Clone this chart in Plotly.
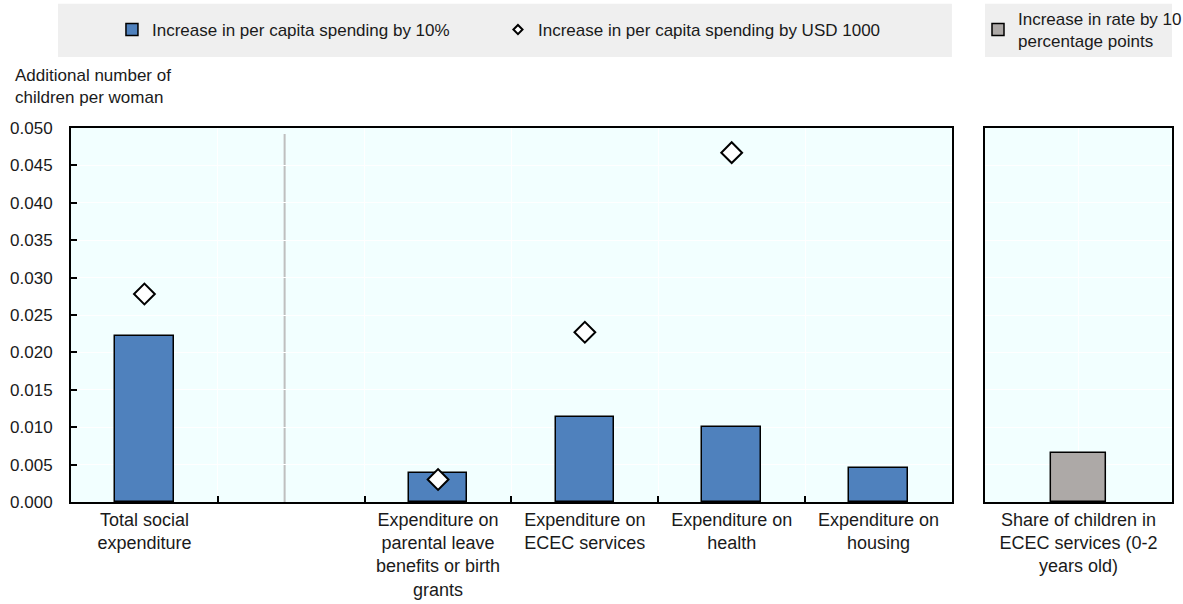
import plotly.graph_objects as go

# Effect on completed fertility of higher family-policy spending
categories = [
    "Total social<br>expenditure",
    " ",
    "Expenditure on<br>parental leave<br>benefits or birth<br>grants",
    "Expenditure on<br>ECEC services",
    "Expenditure on<br>health",
    "Expenditure on<br>housing",
]
spend_10pct = [0.0222, None, 0.0039, 0.0114, 0.0100, 0.0045]
spend_usd1000 = [0.0278, None, 0.0030, 0.0227, 0.0467, None]

enrol_category = ["Share of children in<br>ECEC services (0-2<br>years old)"]
enrol_10pp = [0.0066]

y_ticks = [round(0.005 * i, 3) for i in range(11)]

FONT = "Liberation Sans, Arial, sans-serif"
FS = 17
BLUE = "#4F81BD"
GREY_BAR = "#ADA9A7"
PANEL_BG = "#F2FFFF"
LEGEND_BG = "#EFEFEF"

fig = go.Figure()

fig.add_trace(go.Bar(
    x=categories, y=spend_10pct, name="Increase in per capita spending by 10%",
    marker=dict(color=BLUE, line=dict(color="black", width=1.5)),
    width=0.4, xaxis="x", yaxis="y", legend="legend",
))
fig.add_trace(go.Scatter(
    x=categories, y=spend_usd1000, mode="markers",
    name="Increase in per capita spending by USD 1000",
    marker=dict(symbol="diamond", size=16, color="white",
                line=dict(color="black", width=2)),
    xaxis="x", yaxis="y", showlegend=False,
))
# smaller legend marker for the diamond series
fig.add_trace(go.Scatter(
    x=[categories[0]], y=[None], mode="markers",
    name="Increase in per capita spending by USD 1000",
    marker=dict(symbol="diamond", size=7, color="white",
                line=dict(color="black", width=2)),
    xaxis="x", yaxis="y", legend="legend",
))
fig.add_trace(go.Bar(
    x=enrol_category, y=enrol_10pp,
    name="Increase in rate by 10<br>percentage points",
    marker=dict(color=GREY_BAR, line=dict(color="black", width=1.5)),
    width=0.29, xaxis="x2", yaxis="y2", legend="legend2",
))

axis_common = dict(
    showline=True, linecolor="black", linewidth=2, mirror=True,
    showgrid=True, gridcolor="white", gridwidth=1, zeroline=False,
    automargin=False,
)

fig.update_layout(
    width=1183, height=604,
    margin=dict(l=71, r=11, t=128, b=102, autoexpand=False),
    paper_bgcolor="white", plot_bgcolor=PANEL_BG,
    font=dict(family=FONT, size=FS, color="#1a1a1a"),
    bargap=0,
    xaxis=dict(domain=[0, 0.8001], type="category",
               categoryorder="array", categoryarray=categories,
               tickson="boundaries", ticks="inside", ticklen=6,
               tickcolor="black", tickwidth=2, tickangle=0,
               tickfont=dict(size=18), **axis_common),
    yaxis=dict(range=[0, 0.05], tickvals=y_ticks, tickformat=".3f",
               ticks="inside", ticklen=6, tickcolor="black", tickwidth=2,
               ticklabelstandoff=13, **axis_common),
    xaxis2=dict(domain=[0.8302, 1.0], type="category", anchor="y2",
                ticks="", tickangle=0, tickfont=dict(size=18),
                **axis_common),
    yaxis2=dict(range=[0, 0.05], tickvals=y_ticks, anchor="x2",
                showticklabels=False, ticks="", **axis_common),
    legend=dict(orientation="h", x=0.0372, xanchor="left", y=1.262,
                yanchor="middle", bgcolor="rgba(0,0,0,0)",
                entrywidth=341, entrywidthmode="pixels",
                font=dict(family=FONT, size=FS), itemclick=False),
    legend2=dict(x=0.8238, xanchor="left", y=1.262, yanchor="middle",
                 bgcolor="rgba(0,0,0,0)", font=dict(family=FONT, size=FS),
                 itemclick=False),
    shapes=[
        # legend backgrounds
        dict(type="rect", xref="paper", yref="paper",
             x0=-0.0118, x1=0.8001, y0=1.190, y1=1.332,
             fillcolor=LEGEND_BG, line=dict(width=0), layer="below"),
        dict(type="rect", xref="paper", yref="paper",
             x0=0.8302, x1=1.0, y0=1.190, y1=1.332,
             fillcolor=LEGEND_BG, line=dict(width=0), layer="below"),
        # separator between total and component spending
        dict(type="line", xref="x", yref="y", x0=0.955, x1=0.955,
             y0=0, y1=0.0492, line=dict(color="#BFBFBF", width=2),
             layer="below"),
    ],
    annotations=[
        dict(text="Additional number of<br>children per woman",
             xref="paper", yref="paper", x=-0.0527, y=1.112,
             xanchor="left", yanchor="middle", align="left",
             showarrow=False, font=dict(family=FONT, size=FS)),
    ],
)

fig.write_html("out.html")
